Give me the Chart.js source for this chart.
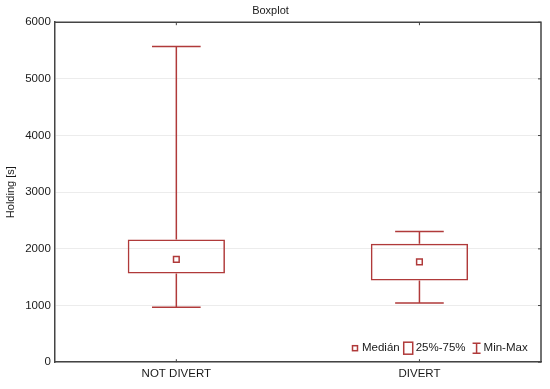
<!DOCTYPE html>
<html>
<head>
<meta charset="utf-8">
<script src="https://cdn.jsdelivr.net/npm/chart.js@4"></script>
<style>
  body { margin: 0; background: #fff; }
  #wrap { width: 550px; height: 389px; }
</style>
</head>
<body>
<div id="wrap"><canvas id="chart"></canvas></div>
<script>
"use strict";

// data
var categories = ["NOT DIVERT", "DIVERT"];
var minVals    = [970, 1045];
var q1Vals     = [1565, 1440];
var medianVals = [1815, 1770];
var q3Vals     = [2165, 2090];
var maxVals    = [5570, 2305];
var yTicks     = [0, 1000, 2000, 3000, 4000, 5000, 6000];

var RED = "#b03a3a";
var FONT = "'Liberation Sans', Arial, sans-serif";

// whiskers (min-max) drawn through the scales
var whiskers = {
    id: "whiskers",
    beforeDatasetsDraw: function(chart) {
        var ctx = chart.ctx, x = chart.scales.x, y = chart.scales.y;
        var bars = chart.getDatasetMeta(0).data;
        ctx.save();
        ctx.strokeStyle = RED;
        ctx.lineWidth = 1.5;
        categories.forEach(function(c, i) {
            var cx = x.getPixelForValue(i);
            var half = bars[i].width / 4;
            var yMax = y.getPixelForValue(maxVals[i]), yMin = y.getPixelForValue(minVals[i]);
            ctx.beginPath();
            ctx.moveTo(cx, yMax); ctx.lineTo(cx, y.getPixelForValue(q3Vals[i]));
            ctx.moveTo(cx, y.getPixelForValue(q1Vals[i])); ctx.lineTo(cx, yMin);
            ctx.moveTo(cx - half, yMax); ctx.lineTo(cx + half, yMax);
            ctx.moveTo(cx - half, yMin); ctx.lineTo(cx + half, yMin);
            ctx.stroke();
        });
        ctx.restore();
    }
};

// frame on top/right, small ticks, and legend inside the plot
var frame = {
    id: "frame",
    afterDraw: function(chart) {
        var ctx = chart.ctx, a = chart.chartArea, x = chart.scales.x, y = chart.scales.y;
        ctx.save();
        ctx.strokeStyle = "#444";
        ctx.lineWidth = 1.5;
        ctx.beginPath();
        ctx.moveTo(a.left, a.top); ctx.lineTo(a.right, a.top); ctx.lineTo(a.right, a.bottom);
        ctx.stroke();
        ctx.lineWidth = 1;
        ctx.beginPath();
        yTicks.forEach(function(v) {
            var py = y.getPixelForValue(v);
            ctx.moveTo(a.right, py); ctx.lineTo(a.right - 3, py);
        });
        categories.forEach(function(c, i) {
            var px = x.getPixelForValue(i);
            ctx.moveTo(px, a.top); ctx.lineTo(px, a.top + 3);
            ctx.moveTo(px, a.bottom); ctx.lineTo(px, a.bottom - 3);
        });
        ctx.stroke();

        // legend
        var ly = a.bottom - 14;
        var lx = a.right - 186;
        ctx.font = "11.5px " + FONT;
        ctx.textBaseline = "middle";
        ctx.fillStyle = "#1a1a1a";
        ctx.strokeStyle = RED;
        ctx.lineWidth = 1.5;
        ctx.strokeRect(lx - 2.5, ly - 2.5, 5, 5);
        lx += 7;
        ctx.fillText("Medián", lx, ly);
        lx += ctx.measureText("Medián").width + 4;
        ctx.strokeRect(lx, ly - 6, 9, 12);
        lx += 12;
        ctx.fillText("25%-75%", lx, ly);
        lx += ctx.measureText("25%-75%").width + 7;
        ctx.beginPath();
        ctx.moveTo(lx, ly - 5); ctx.lineTo(lx + 8, ly - 5);
        ctx.moveTo(lx + 4, ly - 5); ctx.lineTo(lx + 4, ly + 5);
        ctx.moveTo(lx, ly + 5); ctx.lineTo(lx + 8, ly + 5);
        ctx.stroke();
        lx += 11;
        ctx.fillText("Min-Max", lx, ly);
        ctx.restore();
    }
};

new Chart(document.getElementById("chart"), {
    type: "bar",
    data: {
        labels: categories,
        datasets: [{
            label: "25%-75%",
            data: categories.map(function(c, i) { return [q1Vals[i], q3Vals[i]]; }),
            backgroundColor: "rgba(255,255,255,0)",
            borderColor: RED,
            borderWidth: 1.5,
            borderSkipped: false,
            barPercentage: 0.4,
            categoryPercentage: 1
        }, {
            type: "line",
            label: "Medián",
            data: medianVals,
            showLine: false,
            pointStyle: "rect",
            pointRadius: 4,
            pointBackgroundColor: "#fff",
            pointBorderColor: RED,
            pointBorderWidth: 1.5
        }]
    },
    options: {
        responsive: true,
        maintainAspectRatio: false,
        animation: false,
        events: [],
        layout: { padding: { left: 0, right: 9, top: 0, bottom: 3 } },
        plugins: {
            legend: { display: false },
            tooltip: { enabled: false },
            title: {
                display: true,
                text: "Boxplot",
                color: "#1a1a1a",
                font: { family: FONT, size: 11, weight: "normal" },
                padding: { top: 4, bottom: 5 }
            }
        },
        scales: {
            x: {
                offset: true,
                grid: { display: false, drawTicks: false },
                border: { color: "#444", width: 1.5 },
                ticks: { color: "#1a1a1a", padding: 5, font: { family: FONT, size: 11.5 } }
            },
            y: {
                min: 0,
                max: 6000,
                afterBuildTicks: function(s) { s.ticks = yTicks.map(function(v) { return { value: v }; }); },
                grid: { color: "#ececec", drawTicks: false },
                border: { color: "#444", width: 1.5 },
                ticks: {
                    color: "#1a1a1a",
                    padding: 4,
                    font: { family: FONT, size: 11.5 },
                    callback: function(v) { return String(v); }
                },
                title: {
                    display: true,
                    text: "Holding [s]",
                    color: "#1a1a1a",
                    font: { family: FONT, size: 11 },
                    padding: { top: 4, bottom: 4 }
                }
            }
        }
    },
    plugins: [whiskers, frame]
});
</script>
</body>
</html>
